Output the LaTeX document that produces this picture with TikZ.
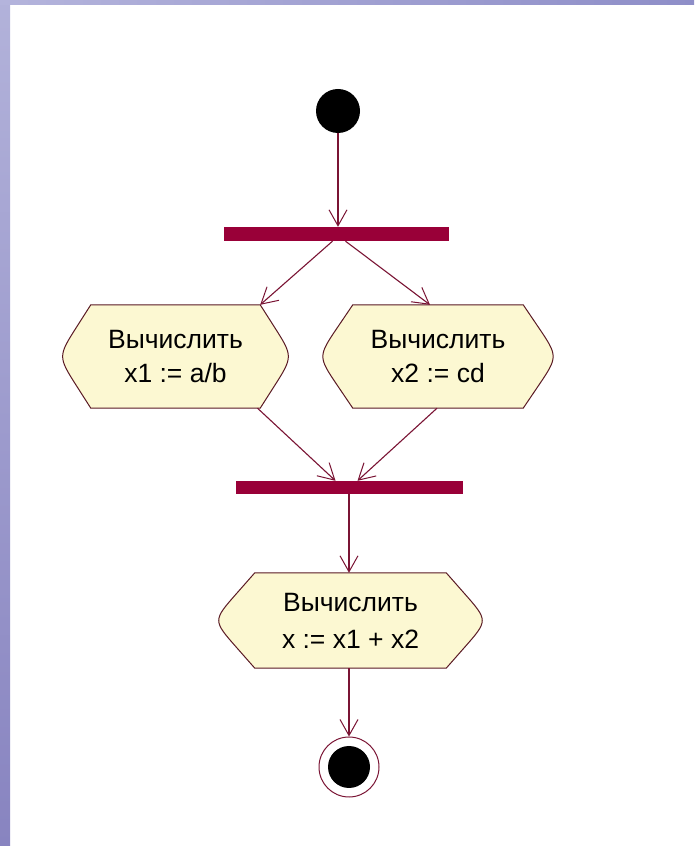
\documentclass[tikz,border=0pt]{standalone}
\usepackage{fontspec}
\setmainfont{Liberation Sans}
\usetikzlibrary{arrows.meta,backgrounds,calc}
\definecolor{linec}{HTML}{7A1434}
\definecolor{barc}{HTML}{990038}
\definecolor{actfill}{HTML}{FCF8D2}
\definecolor{actline}{HTML}{5A1A24}
\tikzset{
  conn/.style={draw=linec, line width=1.1pt, -{Straight Barb[length=16pt,width=18pt,line width=1pt]}},
  bar/.style={fill=barc, draw=none, rectangle, inner sep=0pt},
  act/.style={rectangle, inner sep=0pt, align=center, font=\fontsize{26.5}{34}\selectfont},
  actline/.style={draw=actline, fill=actfill, line width=1pt},
}
\newcommand\actshape[2]{%
  \path ([xshift=#2]#1.north west) coordinate (nw)
        ([xshift=-#2]#1.north east) coordinate (ne)
        ([xshift=-#2]#1.south east) coordinate (se)
        ([xshift=#2]#1.south west) coordinate (sw)
        ([xshift=12pt]#1.east) coordinate (ve)
        ([xshift=-12pt]#1.west) coordinate (vw);
  \path[actline] (nw) -- (ne) -- ($(ve)!36pt!(ne)$) .. controls (ve) .. ($(ve)!36pt!(se)$)
    -- (se) -- (sw) -- ($(vw)!36pt!(sw)$) .. controls (vw) .. ($(vw)!36pt!(nw)$) -- cycle;}
\begin{document}
\begin{tikzpicture}[x=1pt,y=1pt]
\useasboundingbox (0,0) rectangle (694,846);

\node[circle, fill=black, inner sep=0pt, minimum size=44pt] (start) at (338,735) {};
\node[bar, minimum width=225pt, minimum height=14pt] (fork) at (336.5,612) {};
\node[act, minimum width=211pt, minimum height=103pt] (a1) at (175.5,489.5) {Вычислить\\x1 := a/b};
\node[act, minimum width=216pt, minimum height=103pt] (a2) at (438,489.5) {Вычислить\\x2 := cd};
\node[bar, minimum width=227pt, minimum height=13pt] (join) at (349.5,358.5) {};
\node[act, minimum width=251pt, minimum height=95pt, font=\fontsize{26.5}{37}\selectfont] (a3) at (350.5,225.5) {Вычислить\\x := x1 + x2};
\node[circle, draw=linec, line width=1pt, inner sep=0pt, minimum size=60pt] (end) at (349,79) {};
\fill[black] (end.center) circle (21pt);

\begin{pgfonlayer}{background}
\fill[white] (0,0) rectangle (694,846);
\shade[top color={rgb,255:red,178;green,178;blue,218}, bottom color={rgb,255:red,136;green,132;blue,192}] (0,0) rectangle (10,846);
\shade[left color={rgb,255:red,180;green,180;blue,220}, right color={rgb,255:red,142;green,142;blue,200}] (0,841) rectangle (694,846);
\actshape{a1}{21pt}
\actshape{a2}{23pt}
\actshape{a3}{30pt}
\end{pgfonlayer}

\draw[conn] (start.south) -- (start.south |- fork.north);
\draw[conn] ([xshift=-4pt]fork.south) -- ([xshift=-21pt]a1.north east);
\draw[conn] ([xshift=9pt]fork.south) -- ([xshift=-8pt]a2.north);
\draw[conn] ([xshift=82pt]a1.south) -- ([xshift=-14pt]join.north);
\draw[conn] ([xshift=-1pt]a2.south) -- ([xshift=8pt]join.north);
\draw[conn] (join.south -| end.center) -- (a3.north -| end.center);
\draw[conn] (a3.south -| end.center) -- (end.north);
\end{tikzpicture}
\end{document}
